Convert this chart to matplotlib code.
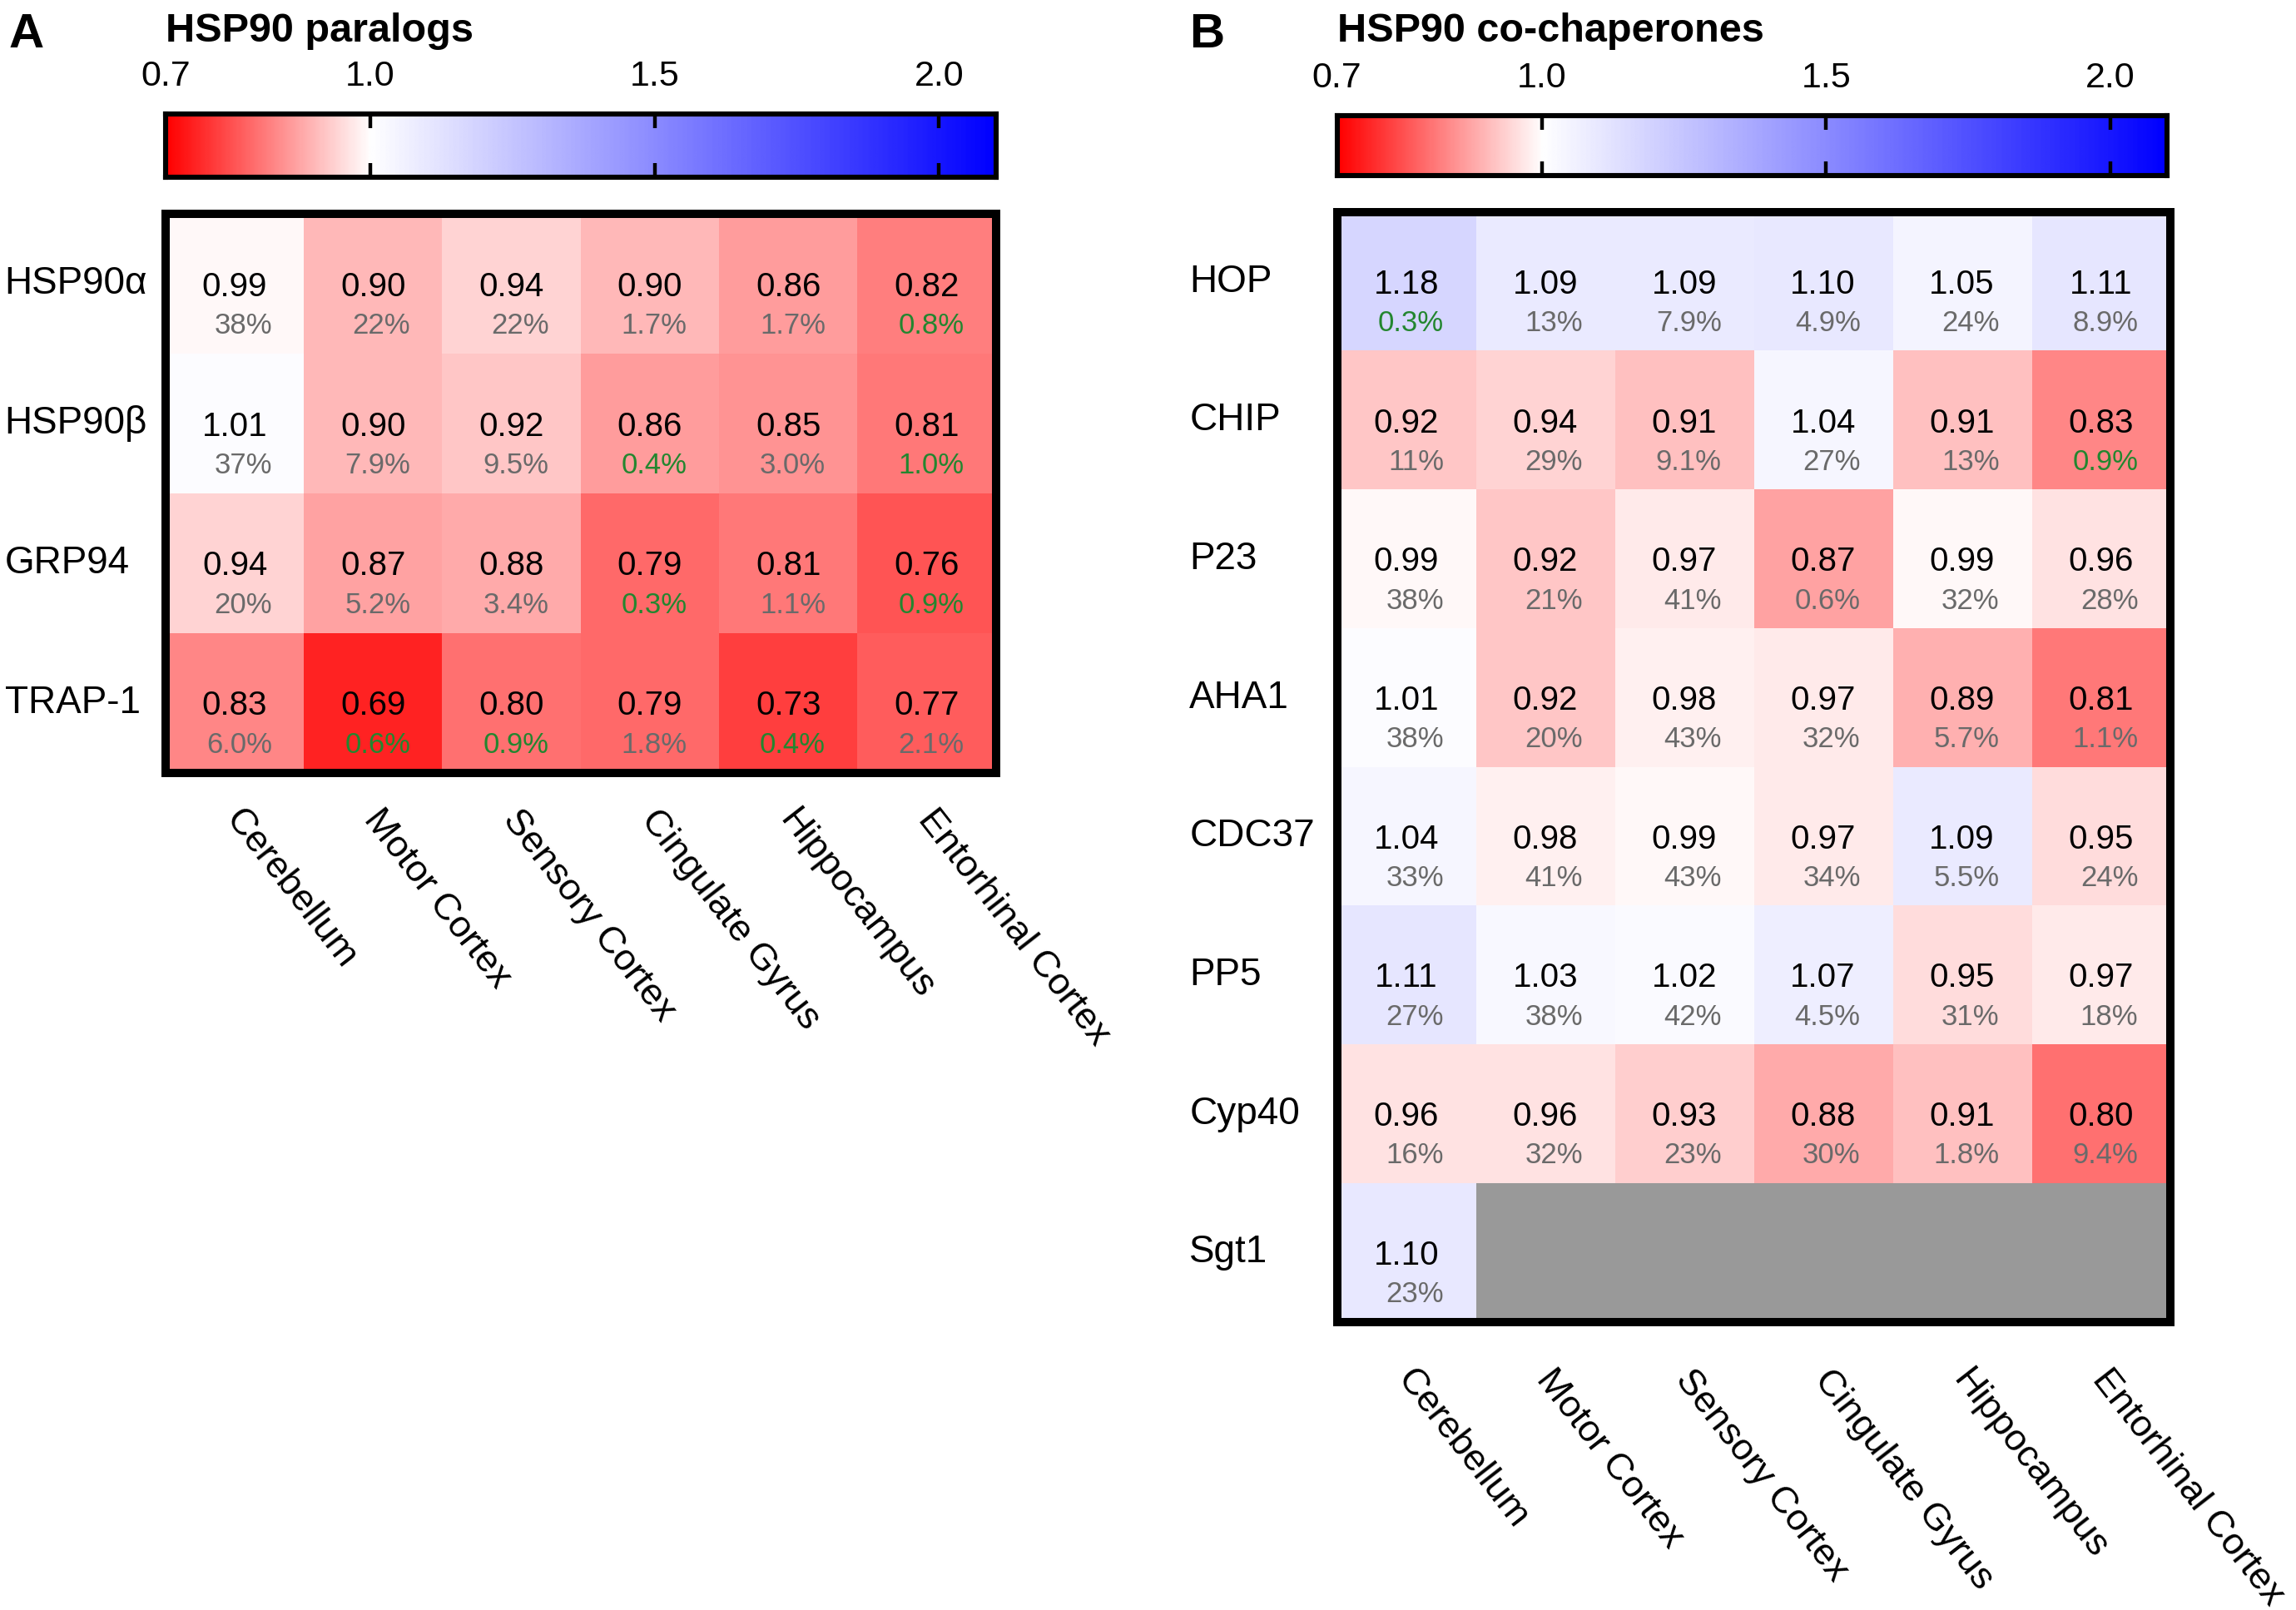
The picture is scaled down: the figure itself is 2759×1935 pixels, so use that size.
import numpy as np
import matplotlib
matplotlib.use('Agg')
import matplotlib.pyplot as plt
from matplotlib.colors import TwoSlopeNorm
from matplotlib.transforms import blended_transform_factory

plt.rcParams['font.family'] = ['Liberation Sans', 'DejaVu Sans']

# ---- data ----
regions = ['Cerebellum', 'Motor Cortex', 'Sensory Cortex', 'Cingulate Gyrus',
           'Hippocampus', 'Entorhinal Cortex']

paralogs = ['HSP90α', 'HSP90β', 'GRP94', 'TRAP-1']
paralog_ratio = [[0.99, 0.90, 0.94, 0.90, 0.86, 0.82],
                 [1.01, 0.90, 0.92, 0.86, 0.85, 0.81],
                 [0.94, 0.87, 0.88, 0.79, 0.81, 0.76],
                 [0.83, 0.69, 0.80, 0.79, 0.73, 0.77]]
paralog_q = [['38%', '22%', '22%', '1.7%', '1.7%', '0.8%'],
             ['37%', '7.9%', '9.5%', '0.4%', '3.0%', '1.0%'],
             ['20%', '5.2%', '3.4%', '0.3%', '1.1%', '0.9%'],
             ['6.0%', '0.6%', '0.9%', '1.8%', '0.4%', '2.1%']]
paralog_sig = [[0, 0, 0, 0, 0, 1],
               [0, 0, 0, 1, 0, 1],
               [0, 0, 0, 1, 0, 1],
               [0, 1, 1, 0, 1, 0]]

cochaps = ['HOP', 'CHIP', 'P23', 'AHA1', 'CDC37', 'PP5', 'Cyp40', 'Sgt1']
cochap_ratio = [[1.18, 1.09, 1.09, 1.10, 1.05, 1.11],
                [0.92, 0.94, 0.91, 1.04, 0.91, 0.83],
                [0.99, 0.92, 0.97, 0.87, 0.99, 0.96],
                [1.01, 0.92, 0.98, 0.97, 0.89, 0.81],
                [1.04, 0.98, 0.99, 0.97, 1.09, 0.95],
                [1.11, 1.03, 1.02, 1.07, 0.95, 0.97],
                [0.96, 0.96, 0.93, 0.88, 0.91, 0.80],
                [1.10, np.nan, np.nan, np.nan, np.nan, np.nan]]
cochap_q = [['0.3%', '13%', '7.9%', '4.9%', '24%', '8.9%'],
            ['11%', '29%', '9.1%', '27%', '13%', '0.9%'],
            ['38%', '21%', '41%', '0.6%', '32%', '28%'],
            ['38%', '20%', '43%', '32%', '5.7%', '1.1%'],
            ['33%', '41%', '43%', '34%', '5.5%', '24%'],
            ['27%', '38%', '42%', '4.5%', '31%', '18%'],
            ['16%', '32%', '23%', '30%', '1.8%', '9.4%'],
            ['23%', '', '', '', '', '']]
cochap_sig = [[1, 0, 0, 0, 0, 0],
              [0, 0, 0, 0, 0, 1],
              [0, 0, 0, 0, 0, 0],
              [0, 0, 0, 0, 0, 0],
              [0, 0, 0, 0, 0, 0],
              [0, 0, 0, 0, 0, 0],
              [0, 0, 0, 0, 0, 0],
              [0, 0, 0, 0, 0, 0]]

cbar_ticks = [1.0, 1.5, 2.0]
cbar_labels = ['0.7', '1.0', '1.5', '2.0']

# ---- style ----
CB_MIN, CB_MAX = 0.64, 2.1
cmap = plt.get_cmap('bwr_r').copy()
cmap.set_bad('#999999')
norm = TwoSlopeNorm(vcenter=1.0, vmin=CB_MIN, vmax=CB_MAX)
GRAY = '#6a6a6a'
GREEN = '#23862f'

fig = plt.figure(figsize=(13.795, 9.675), dpi=200)


def draw_cbar(rect):
    ax = fig.add_axes(rect)
    grad = np.linspace(CB_MIN, CB_MAX, 600)[None, :]
    ax.imshow(grad, cmap=cmap, norm=norm, aspect='auto',
              extent=[CB_MIN, CB_MAX, 0, 1])
    ax.set_xlim(CB_MIN, CB_MAX)
    ax.set_yticks([])
    ax.set_xticks([CB_MIN] + cbar_ticks)
    ax.set_xticklabels(cbar_labels, fontsize=15.5)
    ax.tick_params(axis='x', direction='in', top=True, bottom=True,
                   labeltop=True, labelbottom=False, length=6, width=1.6, pad=9)
    for s in ax.spines.values():
        s.set_linewidth(2.2)


def draw_heat(rect, rows, ratio, qtext, sig, label_x, col_off):
    ax = fig.add_axes(rect)
    data = np.ma.masked_invalid(np.array(ratio, dtype=float))
    ax.imshow(data, cmap=cmap, norm=norm, aspect='auto', interpolation='nearest')
    ax.set_xticks([])
    ax.set_yticks([])
    for s in ax.spines.values():
        s.set_linewidth(3.6)
    nr, nc = data.shape
    for i in range(nr):
        for j in range(nc):
            if np.ma.is_masked(data[i, j]):
                continue
            ax.text(j, i + 0.02, '%.2f' % ratio[i][j], ha='center', va='center',
                    fontsize=14.5, color='black')
            ax.text(j + 0.27, i + 0.30, qtext[i][j], ha='right', va='center',
                    fontsize=12.5, color=GREEN if sig[i][j] else GRAY)
    tr = blended_transform_factory(fig.transFigure, ax.transData)
    for i, name in enumerate(rows):
        ax.text(label_x, i, name, transform=tr, ha='left', va='center',
                fontsize=16.5)
    for j, name in enumerate(regions):
        ax.text(j + 0.08, nr - 0.5 + col_off, name, rotation=-52,
                rotation_mode='anchor', ha='left', va='top', fontsize=16.2,
                clip_on=False)
    return ax


# panel A
fig.text(0.004, 0.992, 'A', ha='left', va='top', fontsize=21, fontweight='bold')
fig.text(0.072, 0.992, 'HSP90 paralogs', ha='left', va='top', fontsize=17.5,
         fontweight='bold')
draw_cbar([0.0721, 0.890, 0.3616, 0.039])
draw_heat([0.0721, 0.520, 0.3616, 0.347], paralogs, paralog_ratio, paralog_q,
          paralog_sig, 0.002, 0.22)

# panel B
fig.text(0.518, 0.992, 'B', ha='left', va='top', fontsize=21, fontweight='bold')
fig.text(0.5823, 0.992, 'HSP90 co-chaperones', ha='left', va='top', fontsize=17.5,
         fontweight='bold')
draw_cbar([0.5823, 0.891, 0.3616, 0.037])
draw_heat([0.5823, 0.179, 0.3629, 0.689], cochaps, cochap_ratio, cochap_q,
          cochap_sig, 0.518, 0.30)

fig.savefig('out.png', dpi=200, facecolor='white')
